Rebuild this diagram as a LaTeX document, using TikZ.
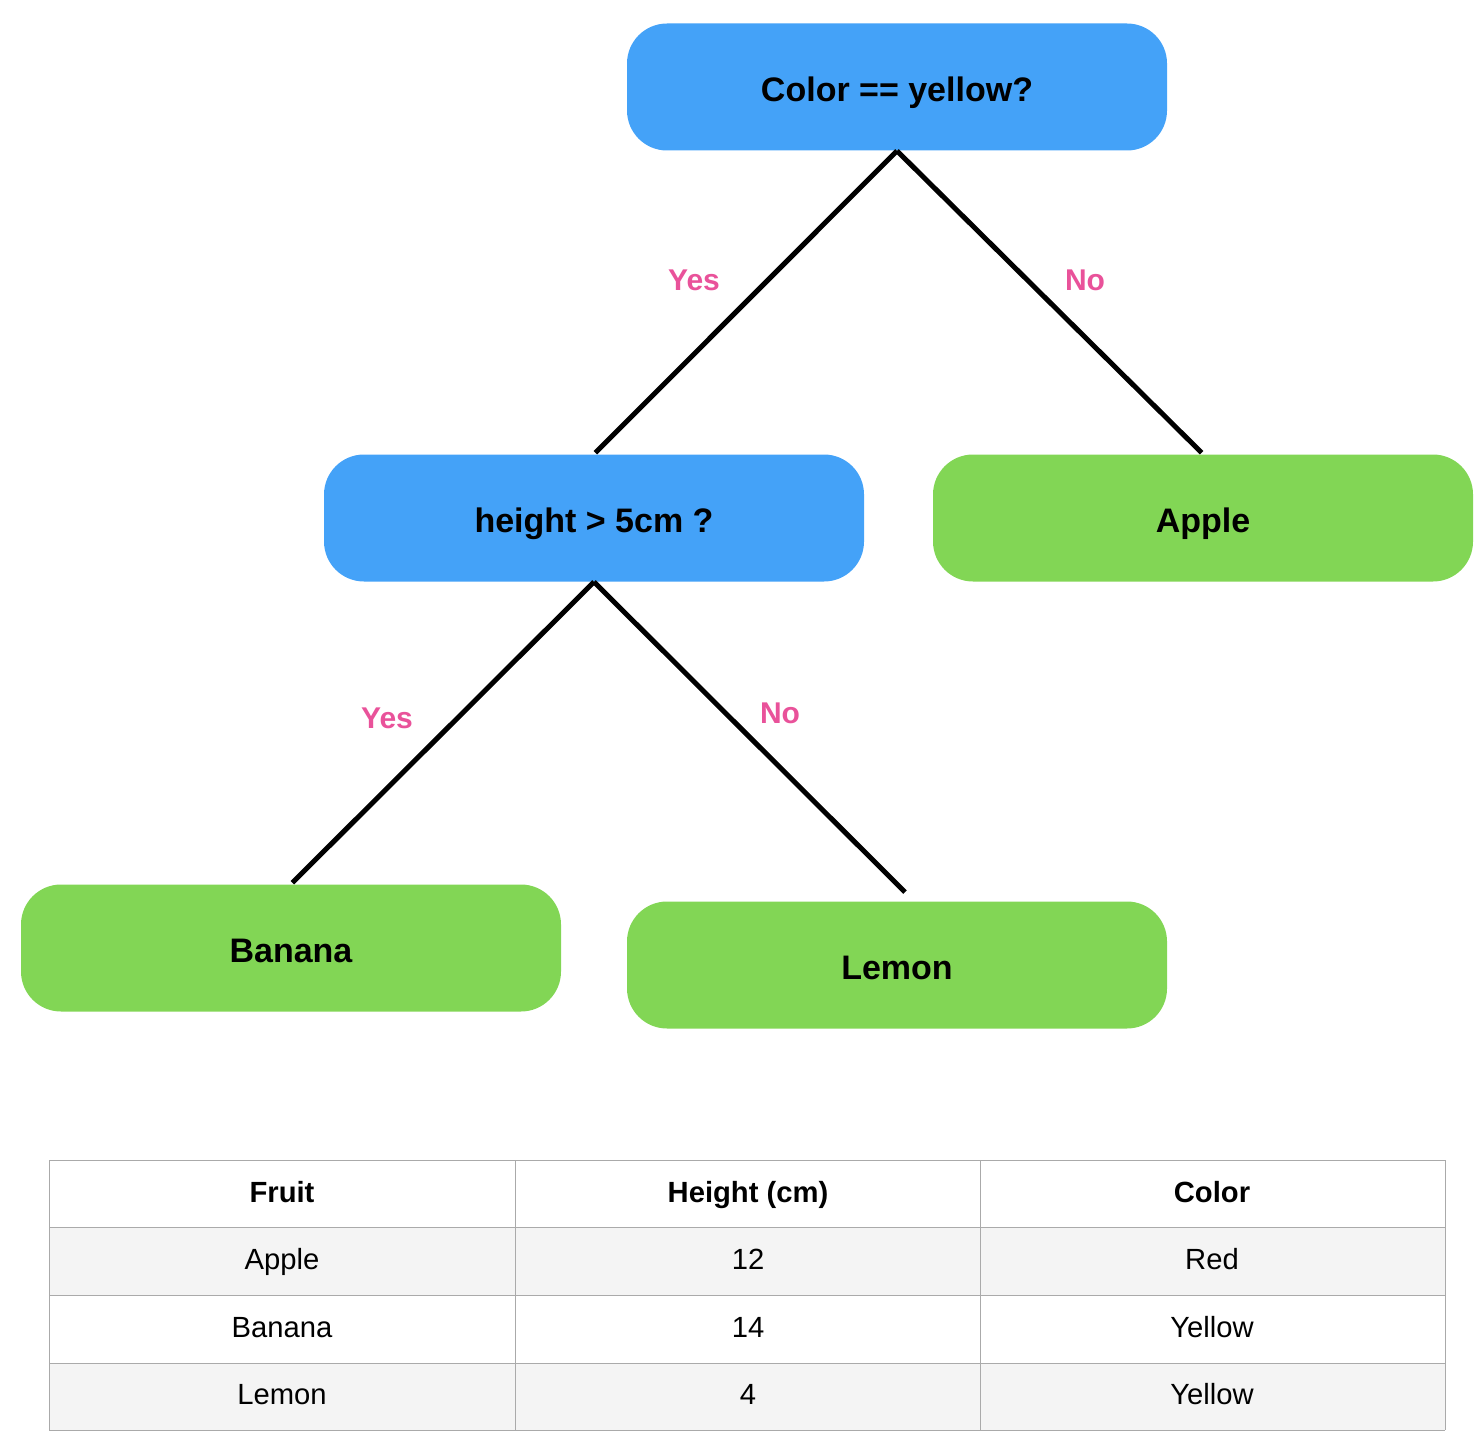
\documentclass[tikz,border=0pt]{standalone}
\usepackage{fontspec}
\setmainfont{Liberation Sans}
\usetikzlibrary{positioning}

\definecolor{askblue}{HTML}{44A2F8}
\definecolor{leafgreen}{HTML}{82D655}
\definecolor{answerpink}{HTML}{E9529A}
\definecolor{gridgray}{HTML}{AAAAAA}
\definecolor{rowgray}{HTML}{F4F4F4}

\tikzset{
    question/.style={fill=askblue, rounded corners=20pt, minimum width=270pt, minimum height=63.5pt, inner sep=0pt, text height=14.2pt, text depth=0pt, font=\fontsize{17}{20}\selectfont\bfseries},
    fruit/.style={question, fill=leafgreen},
    branch/.style={black, line width=2.5pt, shorten >=1pt},
    answer/.style={text=answerpink, text height=10.8pt, text depth=0pt, font=\fontsize{15}{18}\selectfont\bfseries},
    cell/.style={text height=10.5pt, text depth=0pt, font=\fontsize{14.6}{17}\selectfont},
    headcell/.style={cell, font=\fontsize{14.6}{17}\selectfont\bfseries}
}

\begin{document}
\begin{tikzpicture}[x=0.5pt, y=-0.5pt]
    \useasboundingbox (0,0) rectangle (1476,1444);

    % tree
    \node[question] (color) at (897,87) {Color == yellow?};
    \node[question] (height) at (594,518) {height > 5cm ?};
    \node[fruit] (apple) at (1203,518) {Apple};
    \node[fruit] (banana) at (291,948) {Banana};
    \node[fruit] (lemon) at (897,965) {Lemon};
    \coordinate (lemontip) at ([shift={(8,-9)}]lemon.north);

    \draw[branch] (color.south) -- (height.north);
    \draw[branch] (color.south) -- (apple.north);
    \draw[branch] (height.south) -- (banana.north);
    \draw[branch, shorten >=0pt] (height.south) -- (lemontip);

    \node[answer] (yes1) at (694,280) {Yes};
    \node[answer] (no1) at (1085,280) {No};
    \node[answer] (yes2) at (387,718) {Yes};
    \node[answer] (no2) at (780,713) {No};

    % table
    \fill[rowgray] (49,1227) rectangle (1445,1295);
    \fill[rowgray] (49,1363) rectangle (1445,1430);
    \foreach \y in {1160,1227,1295,1363,1430}
        \draw[gridgray, line width=0.5pt] (49,\y) -- (1445,\y);
    \foreach \x in {49,515,980,1445}
        \draw[gridgray, line width=0.5pt] (\x,1160) -- (\x,1430);

    \node[headcell] (hfruit) at (282,1192) {Fruit};
    \node[headcell] (hheight) at (748,1192) {Height (cm)};
    \node[headcell] (hcolor) at (1212,1192) {Color};
    \foreach \n/\y/\f/\h/\c in {1/1259/Apple/12/Red, 2/1327/Banana/14/Yellow, 3/1394/Lemon/4/Yellow} {
        \node[cell] (fruit\n) at (282,\y) {\f};
        \node[cell] (height\n) at (748,\y) {\h};
        \node[cell] (color\n) at (1212,\y) {\c};
    }
\end{tikzpicture}
\end{document}
